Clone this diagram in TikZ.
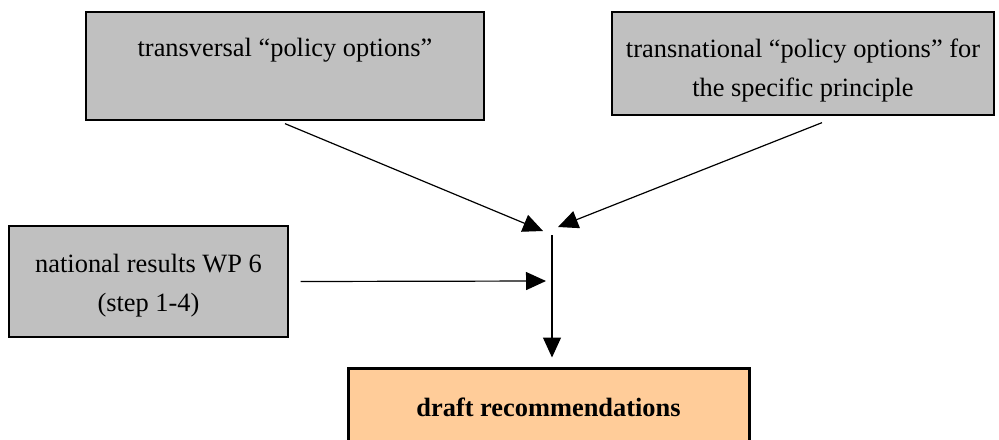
\documentclass[tikz,border=0pt]{standalone}
\usepackage{fontspec}
\setmainfont{Liberation Serif}
\usepackage{xcolor}
\usetikzlibrary{positioning,arrows.meta}
\definecolor{boxgrey}{HTML}{C0C0C0}
\definecolor{draftorange}{HTML}{FFCC99}
\tikzstyle{inbox} = [rectangle, draw=black, fill=boxgrey, line width=0.65pt, inner sep=0pt]
\tikzstyle{boxtext} = [inner sep=0pt, align=center, font=\fontsize{13.2}{19.6}\selectfont]
\tikzstyle{outbox} = [rectangle, draw=black, fill=draftorange, line width=1.5pt, inner sep=0pt, align=center, font=\fontsize{13.2}{20}\selectfont\bfseries]
\tikzstyle{arrow} = [line width=0.6pt, -{Triangle[length=10pt,width=9pt]}]

\begin{document}
\begin{tikzpicture}[x=0.5pt, y=-0.5pt]
    \path[use as bounding box, clip] (0,0) rectangle (999,439);
    \node[inbox, minimum width=199pt, minimum height=54pt] (transversal) at (285,66) {};
    \node[inbox, minimum width=191pt, minimum height=51.5pt] (transnational) at (803,63.5) {};
    \node[inbox, minimum width=139.5pt, minimum height=55.5pt] (national) at (148.5,281.5) {};
    \node[outbox, minimum width=200.5pt, minimum height=39pt] (draft) at (548.5,407) {draft recommendations};
    % texts of the grey boxes
    \node[boxtext] (transversaltext) at ([yshift=-3.5pt]transversal.center) {transversal “policy options”\\\strut};
    \node[boxtext] (transnationaltext) at ([yshift=-3.5pt]transnational.center) {transnational “policy options” for\\the specific principle};
    \node[boxtext] (nationaltext) at ([yshift=-2pt]national.center) {national results WP 6\\(step 1-4)};
    % free ends of the connectors
    \coordinate (meetleft) at (543,231);
    \coordinate (meetright) at (558,227);
    \coordinate (meetmid) at (546,281);
    \coordinate (meettop) at (552,235);
    \draw[arrow] ([yshift=-1.5pt]transversal.south) -- (meetleft);
    \draw[arrow] ([xshift=9.5pt,yshift=-3.5pt]transnational.south) -- (meetright);
    \draw[arrow] ([xshift=6pt]national.east) -- (meetmid);
    \draw[arrow] (meettop) -- ([xshift=1.75pt,yshift=4.5pt]draft.north);
\end{tikzpicture}
\end{document}
